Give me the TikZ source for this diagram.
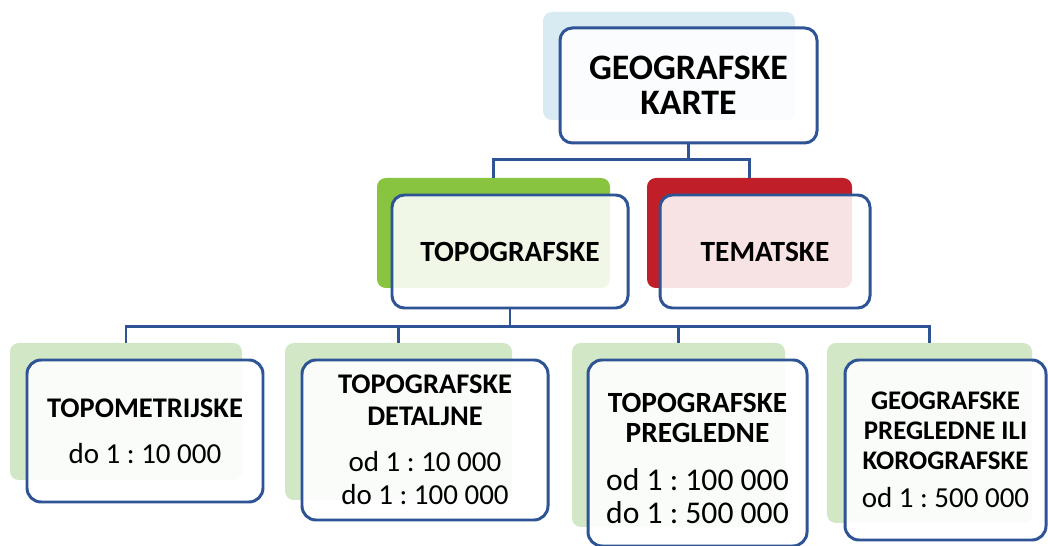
\documentclass[tikz,border=0pt]{standalone}
\usepackage{fontspec}
\setmainfont{Carlito}
\usetikzlibrary{fit}

\definecolor{boxblue}{RGB}{46,84,150}
\definecolor{lblue}{RGB}{216,235,243}
\definecolor{dgreen}{RGB}{137,196,64}
\definecolor{dred}{RGB}{192,30,40}
\definecolor{lgreen}{RGB}{210,231,198}

\newcommand{\hd}[2]{{\fontsize{#1}{18}\selectfont\bfseries #2}}

\begin{document}
\frenchspacing
\begin{tikzpicture}[x=0.02cm, y=-0.02cm,
    mainbox/.style={draw=boxblue, line width=1.7pt, rounded corners=7pt, fill=white, fill opacity=0.88, inner sep=0pt},
    shadebox/.style={rounded corners=5pt, inner sep=0pt},
    txt/.style={align=center, inner sep=0pt},
    conn/.style={draw=boxblue, line width=1.3pt}]
    \useasboundingbox (0,0) rectangle (1048,546);

    % shadows behind the boxes
    \node[shadebox, fill=lblue, fit={(543,12) (795,120)}] (geoS) {};
    \node[shadebox, fill=dgreen, fit={(377,178) (610,288)}] (topoS) {};
    \node[shadebox, fill=dred, fit={(647,178) (852,288)}] (temS) {};
    \node[shadebox, fill=lgreen, fit={(10,343) (242,480)}] (s1) {};
    \node[shadebox, fill=lgreen, fit={(285,343) (512,500)}] (s2) {};
    \node[shadebox, fill=lgreen, fit={(572,343) (785,527)}] (s3) {};
    \node[shadebox, fill=lgreen, fit={(827,343) (1032,523)}] (s4) {};

    % boxes
    \node[mainbox, fit={(560,28) (817,143)}] (geo) {};
    \node[mainbox, fit={(392,195) (628,308)}] (topo) {};
    \node[mainbox, fit={(660,195) (870,308)}] (tem) {};
    \node[mainbox, rounded corners=8pt, fit={(27,360) (263,502)}] (b1) {};
    \node[mainbox, rounded corners=8pt, fit={(302,360) (548,520)}] (b2) {};
    \node[mainbox, rounded corners=8pt, fit={(588,360) (807,546)}] (b3) {};
    \node[mainbox, rounded corners=8pt, fit={(845,360) (1046,540)}] (b4) {};

    % texts
    \node[txt, font=\fontsize{20.4}{20}\selectfont\bfseries] (geoT) at (geo) {GEOGRAFSKE\\KARTE};
    \node[txt, font=\fontsize{16.7}{20}\selectfont\bfseries] (topoT) at (topo) {TOPOGRAFSKE};
    \node[txt, font=\fontsize{16.7}{20}\selectfont\bfseries] (temT) at (tem) {TEMATSKE};
    \node[txt, font=\fontsize{16.5}{19}\selectfont] (b1T) at (b1) {\hd{16.2}{TOPOMETRIJSKE}\\[7pt]do 1 : 10 000};
    \node[txt, font=\fontsize{16.5}{19}\selectfont] (b2T) at (b2) {\hd{16.2}{TOPOGRAFSKE}\\[-1pt]\hd{16.2}{DETALJNE}\\[7pt]od 1 : 10 000\\do 1 : 100 000};
    \node[txt, font=\fontsize{18}{18.3}\selectfont] (b3T) at ([yshift=-3pt]b3) {\hd{16.7}{TOPOGRAFSKE}\\[-1pt]\hd{16.7}{PREGLEDNE}\\[9pt]od 1 : 100 000\\do 1 : 500 000};
    \node[txt, font=\fontsize{16.5}{17}\selectfont] (b4T) at (b4) {\hd{15.3}{GEOGRAFSKE}\\\hd{15.3}{PREGLEDNE ILI}\\\hd{15.3}{KOROGRAFSKE}\\[5pt]od 1 : 500 000};

    % connectors
    \draw[conn] (geo.south) -- ++(0,15) -| (topoS.north); % to topografske
    \draw[conn] (geo.south) ++(0,15) -| (temS.north); % to tematske
    \draw[conn] (topo.south) -- ++(0,17) coordinate (bar);
    \foreach \s in {s1,s2,s3,s4}
      \draw[conn] (bar) -| (\s.north);
  \end{tikzpicture}
\end{document}
